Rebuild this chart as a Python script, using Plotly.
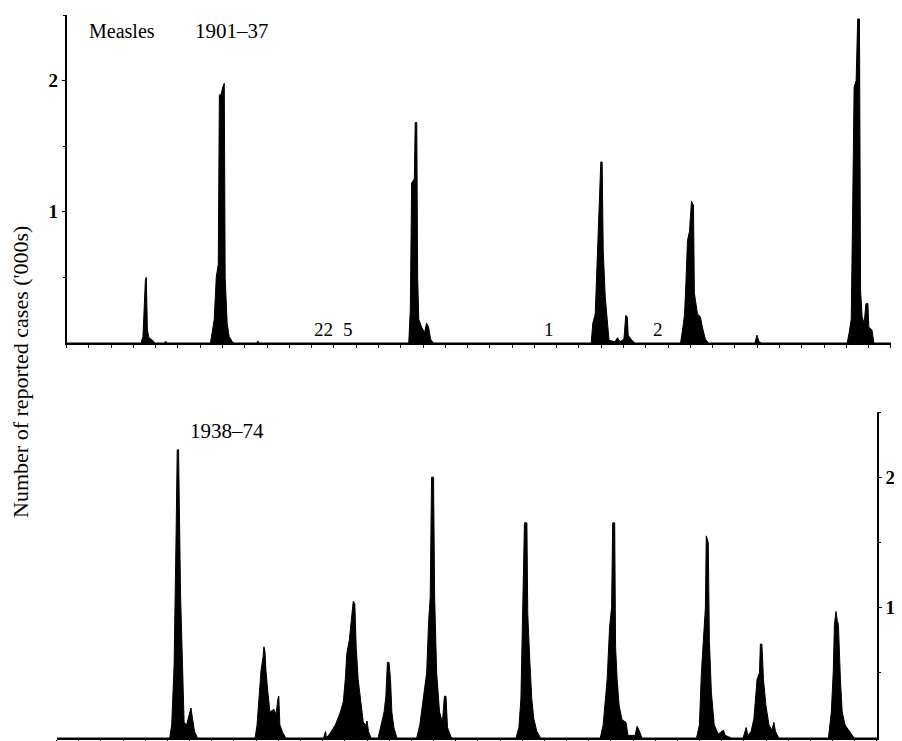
import plotly.graph_objects as go

# ---- Data (reported measles cases, thousands) ----
top_year = [1901.0, 1904.34, 1904.43, 1904.54, 1904.58, 1904.63, 1904.70, 1904.87, 1904.96,
            1905.40, 1905.45, 1905.50,
            1907.46, 1907.54, 1907.63, 1907.72, 1907.81, 1907.86, 1907.95, 1908.01, 1908.08,
            1908.12, 1908.21, 1908.30, 1908.44, 1908.52,
            1909.54, 1909.59, 1909.64,
            1916.36, 1916.43, 1916.49, 1916.61, 1916.65, 1916.72, 1916.76, 1916.81, 1916.94,
            1917.07, 1917.16, 1917.25, 1917.34, 1917.47,
            1924.55, 1924.62, 1924.73, 1924.82, 1924.91, 1924.98, 1925.04, 1925.09, 1925.18,
            1925.27, 1925.35, 1925.62, 1925.73, 1925.84, 1926.02, 1926.10, 1926.17, 1926.21,
            1926.38, 1926.51,
            1928.56, 1928.65, 1928.74, 1928.80, 1928.87, 1928.96, 1929.05, 1929.14, 1929.18,
            1929.32, 1929.45, 1929.54, 1929.67, 1929.81,
            1931.90, 1931.99, 1932.08, 1932.20,
            1936.04, 1936.13, 1936.22, 1936.28, 1936.35, 1936.44, 1936.51, 1936.59, 1936.64,
            1936.71, 1936.80, 1936.88, 1936.97, 1937.01, 1937.15, 1937.24, 1938.0]
top_cases = [0, 0, 0.05, 0.48, 0.50, 0.10, 0.04, 0.02, 0,
             0, 0.015, 0,
             0, 0.10, 0.18, 0.50, 0.60, 1.89, 1.90, 1.95, 1.98,
             0.50, 0.15, 0.05, 0.01, 0,
             0, 0.015, 0,
             0, 0.25, 1.22, 1.25, 1.68, 1.68, 0.50, 0.18, 0.12,
             0.08, 0.15, 0.12, 0.03, 0,
             0, 0.15, 0.22, 0.61, 0.95, 1.38, 1.38, 0.70, 0.35,
             0.20, 0.02, 0.01, 0.04, 0.01, 0.03, 0.21, 0.20, 0.06,
             0.02, 0,
             0, 0.10, 0.22, 0.46, 0.78, 0.85, 1.08, 1.05, 0.38,
             0.22, 0.20, 0.12, 0.03, 0,
             0, 0.06, 0.01, 0,
             0, 0.08, 0.18, 0.96, 1.95, 2.00, 2.47, 2.47, 0.40,
             0.20, 0.15, 0.30, 0.30, 0.12, 0.10, 0, 0]

bottom_year = [1938.0, 1943.10, 1943.19, 1943.30, 1943.39, 1943.44, 1943.50, 1943.55, 1943.59,
               1943.68, 1943.75, 1943.86, 1943.95, 1944.06, 1944.13, 1944.22, 1944.35,
               1946.95, 1947.04, 1947.13, 1947.22, 1947.31, 1947.35, 1947.40, 1947.44, 1947.53,
               1947.62, 1947.80, 1947.90, 1947.98, 1948.02, 1948.07, 1948.20, 1948.34,
               1950.04, 1950.13, 1950.17, 1950.35, 1950.57, 1950.80, 1950.93, 1951.02, 1951.09,
               1951.20, 1951.29, 1951.38, 1951.45, 1951.51, 1951.60, 1951.69, 1951.83, 1951.96,
               1952.00, 1952.07, 1952.18,
               1952.50, 1952.63, 1952.77, 1952.85, 1952.92, 1952.99, 1953.06, 1953.12, 1953.21,
               1953.35,
               1954.24, 1954.38, 1954.55, 1954.69, 1954.78, 1954.85, 1954.91, 1955.00, 1955.05,
               1955.14, 1955.27, 1955.40, 1955.49, 1955.56, 1955.63, 1955.81,
               1958.72, 1958.85, 1958.94, 1959.01, 1959.10, 1959.21, 1959.25, 1959.34, 1959.43,
               1959.52, 1959.66, 1959.83,
               1962.52, 1962.65, 1962.74, 1962.83, 1962.94, 1963.03, 1963.08, 1963.17, 1963.21,
               1963.28, 1963.37, 1963.50, 1963.68, 1963.77, 1964.09, 1964.18, 1964.27, 1964.40,
               1966.86, 1966.99, 1967.08, 1967.17, 1967.26, 1967.30, 1967.39, 1967.44, 1967.53,
               1967.66, 1967.84, 1968.07, 1968.16, 1968.43,
               1968.96, 1969.10, 1969.18, 1969.32, 1969.45, 1969.59, 1969.70, 1969.74, 1969.81,
               1969.88, 1969.99, 1970.13, 1970.26, 1970.35, 1970.42, 1970.57,
               1972.81, 1972.94, 1973.03, 1973.08, 1973.15, 1973.21, 1973.26, 1973.35, 1973.43,
               1973.56, 1973.74, 1973.97, 1975.0]
bottom_cases = [0, 0, 0.10, 0.56, 1.58, 2.21, 2.21, 1.58, 1.10,
                0.55, 0.12, 0.10, 0.15, 0.23, 0.15, 0.05, 0,
                0, 0.10, 0.30, 0.52, 0.62, 0.70, 0.66, 0.52, 0.35,
                0.20, 0.22, 0.18, 0.30, 0.32, 0.10, 0.04, 0,
                0, 0.05, 0, 0.04, 0.10, 0.20, 0.28, 0.45, 0.65,
                0.75, 0.92, 1.05, 1.03, 0.70, 0.45, 0.30, 0.12, 0.10,
                0.13, 0.05, 0,
                0, 0.10, 0.20, 0.32, 0.58, 0.58, 0.45, 0.20, 0.08,
                0,
                0, 0.10, 0.30, 0.50, 0.90, 1.08, 2.00, 2.00, 1.08,
                0.50, 0.20, 0.12, 0.32, 0.32, 0.08, 0,
                0, 0.08, 0.30, 0.95, 1.65, 1.65, 0.95, 0.60, 0.30,
                0.15, 0.05, 0,
                0, 0.10, 0.25, 0.45, 0.85, 1.00, 1.65, 1.65, 0.70,
                0.45, 0.25, 0.14, 0.12, 0.02, 0.02, 0.09, 0.06, 0,
                0, 0.10, 0.50, 0.79, 1.00, 1.55, 1.50, 0.75, 0.35,
                0.10, 0.03, 0.06, 0.02, 0,
                0, 0.08, 0.02, 0.05, 0.15, 0.45, 0.50, 0.72, 0.72,
                0.45, 0.25, 0.10, 0.06, 0.12, 0.05, 0,
                0, 0.20, 0.52, 0.87, 0.97, 0.90, 0.87, 0.45, 0.20,
                0.10, 0.06, 0, 0]

y_tick_vals = [1, 2]
y_tick_text = ["1", "2"]
y_minor_vals = [0.5, 1.5, 2.5]
gap_labels = ["22", "5", "1", "2"]
gap_label_years = [1912.53, 1913.62, 1922.64, 1927.54]

W, H = 902, 741
OFF = 8        # page body margin offset (screen px -> figure px)
SX = 0.992     # slight horizontal squeeze so the right-hand labels stay visible
SERIF = "Liberation Serif"


def px_x(p):
    return (p - OFF) * SX / W


def px_y(p):
    return 1 - (p - OFF) / H


fig = go.Figure()
fig.add_trace(go.Scatter(x=top_year, y=top_cases, mode="lines", fill="tozeroy",
                         line=dict(color="black", width=1), fillcolor="black",
                         xaxis="x", yaxis="y", showlegend=False, hoverinfo="skip"))
fig.add_trace(go.Scatter(x=bottom_year, y=bottom_cases, mode="lines", fill="tozeroy",
                         line=dict(color="black", width=1), fillcolor="black",
                         xaxis="x2", yaxis="y2", showlegend=False, hoverinfo="skip"))

axfont = dict(family=SERIF, size=19, color="black", weight="bold")

common_x = dict(showline=True, linecolor="black", linewidth=1.6, showgrid=False,
                zeroline=False, ticks="outside", tickmode="linear", dtick=1,
                ticklen=3, tickwidth=1, tickcolor="black", showticklabels=False,
                automargin=False)
common_y = dict(range=[0, 2.5], showline=True, linecolor="black", linewidth=1.6,
                showgrid=False, zeroline=False, ticks="outside", tickvals=y_tick_vals,
                ticktext=y_tick_text, ticklen=3, tickwidth=1, tickcolor="black",
                tickfont=axfont, ticklabeloverflow="allow",
                minor=dict(tickvals=y_minor_vals, ticks="outside", ticklen=2,
                           tickcolor="black", tickwidth=1),
                automargin=False)

fig.update_layout(
    width=W, height=H,
    margin=dict(l=0, r=0, t=0, b=0),
    paper_bgcolor="white", plot_bgcolor="white",
    template="none",
    font=dict(family=SERIF, color="black"),
    xaxis=dict(domain=[px_x(67), px_x(898)], range=[1901, 1938], anchor="y",
               tick0=1901, **common_x),
    yaxis=dict(domain=[px_y(343), px_y(15)], anchor="x", **common_y),
    xaxis2=dict(domain=[px_x(57), px_x(884)], range=[1938, 1975], anchor="y2",
                tick0=1938, **common_x),
    yaxis2=dict(domain=[px_y(738), px_y(412)], anchor="x2", side="right", **common_y),
)

annotations = [
    dict(text="Number of reported cases ('000s)", x=px_x(20), y=px_y(372),
         xref="paper", yref="paper", textangle=-90, showarrow=False,
         font=dict(family=SERIF, size=22, color="black"), xanchor="center", yanchor="middle"),
    dict(text="Measles", x=px_x(123), y=px_y(31), xref="paper", yref="paper",
         showarrow=False, font=dict(family=SERIF, size=20, color="black"),
         xanchor="center", yanchor="middle"),
    dict(text="1901–37", x=px_x(234), y=px_y(31), xref="paper", yref="paper",
         showarrow=False, font=dict(family=SERIF, size=21, color="black"),
         xanchor="center", yanchor="middle"),
    dict(text="1938–74", x=px_x(229), y=px_y(431), xref="paper", yref="paper",
         showarrow=False, font=dict(family=SERIF, size=21, color="black"),
         xanchor="center", yanchor="middle"),
]
for lab, yr in zip(gap_labels, gap_label_years):
    annotations.append(dict(text=lab, x=yr, y=0.01, xref="x", yref="y", showarrow=False,
                            font=dict(family=SERIF, size=19, color="black"),
                            xanchor="center", yanchor="bottom"))
fig.update_layout(annotations=annotations)

fig.write_html("out.html")
